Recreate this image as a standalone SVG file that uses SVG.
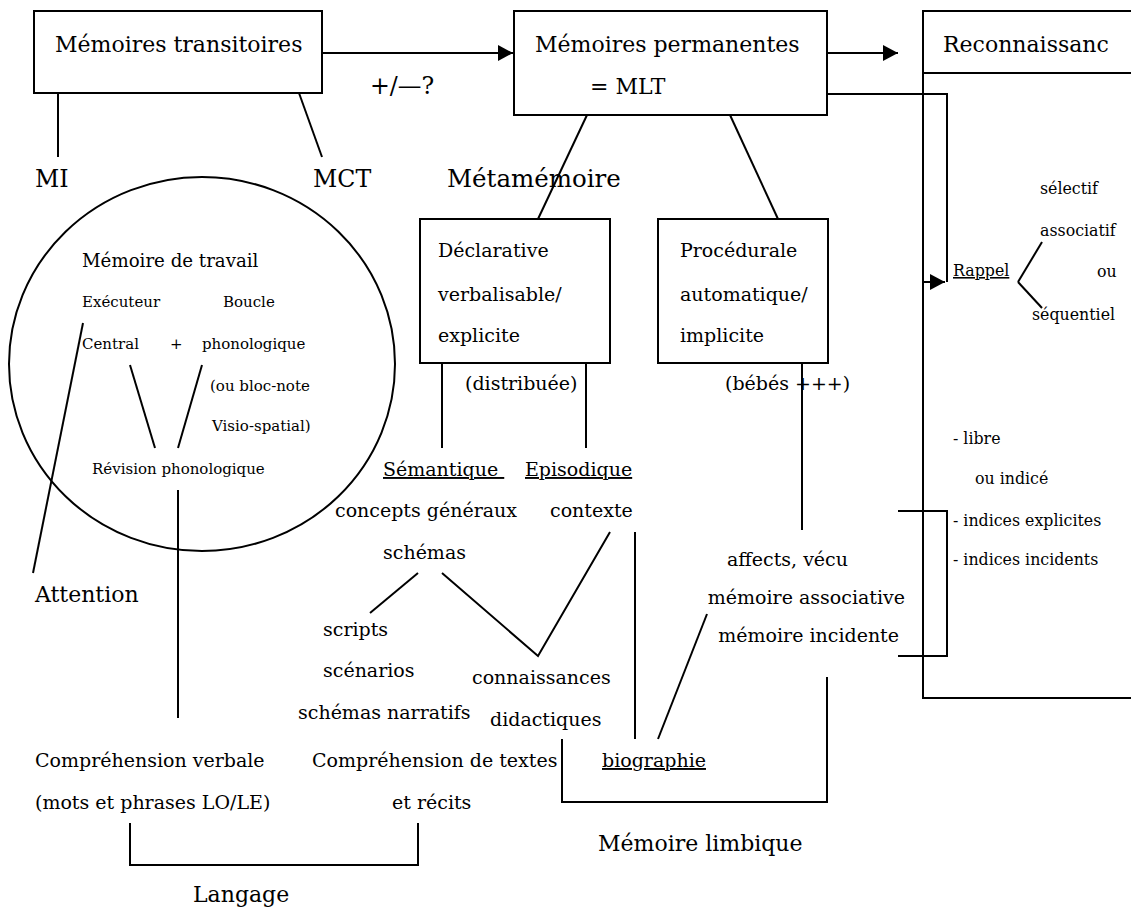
<svg xmlns="http://www.w3.org/2000/svg" width="1131" height="910" viewBox="0 0 1131 910">
<style>
.L{font-size:22px}
.M{font-size:19px}
.S{font-size:15px}
.R{font-size:15.8px}
.box{fill:#fff;stroke:#000;stroke-width:2}
.ln{fill:none;stroke:#000;stroke-width:2}
.u{text-decoration:underline}
</style>
<defs>
<marker id="arr" markerWidth="16" markerHeight="16" refX="15" refY="8" orient="auto" markerUnits="userSpaceOnUse"><path d="M0,0 L15,8 L0,16 z" fill="#000"/></marker>
</defs>
<rect width="1131" height="910" fill="#fff"/>

<g id="connectors">
<line class="ln" x1="322" y1="53" x2="513" y2="53" marker-end="url(#arr)"/>
<line class="ln" x1="828" y1="53" x2="898" y2="53" marker-end="url(#arr)"/>
<polyline class="ln" points="828,94 947,94 947,282"/>
<line class="ln" x1="923" y1="282" x2="945" y2="282" marker-end="url(#arr)"/>
<line class="ln" x1="58" y1="93" x2="58" y2="157"/>
<line class="ln" x1="299" y1="93" x2="322" y2="157"/>
<line class="ln" x1="587" y1="115" x2="538" y2="219"/>
<line class="ln" x1="730" y1="115" x2="778" y2="219"/>
<line class="ln" x1="442" y1="363" x2="442" y2="448"/>
<line class="ln" x1="586" y1="363" x2="586" y2="448"/>
<line class="ln" x1="802" y1="363" x2="802" y2="530"/>
<line class="ln" x1="83" y1="323" x2="33" y2="573"/>
<line class="ln" x1="130" y1="365" x2="155" y2="448"/>
<line class="ln" x1="202" y1="365" x2="178" y2="448"/>
<line class="ln" x1="178" y1="490" x2="178" y2="718"/>
<polyline class="ln" points="130,823 130,865 418,865 418,823"/>
<line class="ln" x1="418" y1="573" x2="370" y2="613"/>
<polyline class="ln" points="442,573 538,656 610,532"/>
<line class="ln" x1="635" y1="532" x2="635" y2="739"/>
<line class="ln" x1="707" y1="614" x2="658" y2="739"/>
<polyline class="ln" points="562,739 562,802 827,802 827,677"/>
<line class="ln" x1="1018" y1="282" x2="1042" y2="242"/>
<line class="ln" x1="1018" y1="282" x2="1042" y2="308"/>
<polyline class="ln" points="898,511 947,511 947,656 898,656"/>
</g>

<g font-family="DejaVu Serif, Liberation Serif, serif" fill="#000">
<g id="transitoires">
<rect class="box" x="34" y="11" width="288" height="82"/>
<text class="L" x="55" y="52">Mémoires transitoires</text>
</g>
<g id="plusminus"><text x="370" y="94" font-size="23.7">+/—?</text></g>
<g id="permanentes">
<rect class="box" x="514" y="11" width="313" height="104"/>
<text class="L" x="535" y="52">Mémoires permanentes</text>
<text class="L" x="590" y="94">= MLT</text>
</g>
<g id="reconnaissance">
<rect x="923" y="11" width="220" height="687" fill="none" stroke="#000" stroke-width="2"/>
<line class="ln" x1="923" y1="73" x2="1140" y2="73"/>
<text class="L" x="943" y="52">Reconnaissanc</text>
</g>
<g id="mi"><text x="35" y="187" font-size="23.7">MI</text></g>
<g id="mct"><text x="313" y="187" font-size="23.7">MCT</text></g>
<g id="metamemoire"><text x="447" y="187" font-size="24.5">Métamémoire</text></g>

<g id="declarative">
<rect class="box" x="420" y="219" width="190" height="144"/>
<text class="M" x="438" y="257">Déclarative</text>
<text class="M" x="438" y="301">verbalisable/</text>
<text class="M" x="438" y="342">explicite</text>
</g>
<g id="procedurale">
<rect class="box" x="658" y="219" width="170" height="144"/>
<text class="M" x="680" y="257">Procédurale</text>
<text class="M" x="680" y="301">automatique/</text>
<text class="M" x="680" y="342">implicite</text>
</g>
<g id="distribuee"><text class="M" x="465" y="390">(distribuée)</text></g>
<g id="bebes"><text class="M" x="725" y="390">(bébés +++)</text></g>

<g id="travail">
<ellipse cx="202" cy="364" rx="193" ry="187" fill="none" stroke="#000" stroke-width="2"/>
<text x="82" y="267" font-size="18.2">Mémoire de travail</text>
<text class="S" x="82" y="307">Exécuteur</text>
<text class="S" x="223" y="307">Boucle</text>
<text class="S" x="82" y="349">Central</text>
<text class="S" x="170" y="349">+</text>
<text class="S" x="202" y="349">phonologique</text>
<text class="S" x="210" y="391">(ou bloc-note</text>
<text class="S" x="212" y="431">Visio-spatial)</text>
<text class="S" x="92" y="474">Révision phonologique</text>
</g>
<g id="attention"><text class="L" x="35" y="602">Attention</text></g>

<g id="semantique">
<text class="M u" x="383" y="476" xml:space="preserve">Sémantique </text>
<text class="M" x="335" y="517">concepts généraux</text>
<text class="M" x="383" y="559">schémas</text>
</g>
<g id="episodique">
<text class="M u" x="525" y="476">Episodique</text>
<text class="M" x="550" y="517">contexte</text>
</g>
<g id="scripts">
<text class="M" x="323" y="636">scripts</text>
<text class="M" x="323" y="677">scénarios</text>
<text class="M" x="298" y="719">schémas narratifs</text>
</g>
<g id="connaissances">
<text class="M" x="472" y="684">connaissances</text>
<text class="M" x="490" y="726">didactiques</text>
</g>
<g id="affects">
<text class="M" x="848" y="566" text-anchor="end">affects, vécu</text>
<text class="M" x="905" y="604" text-anchor="end">mémoire associative</text>
<text class="M" x="899" y="642" text-anchor="end">mémoire incidente</text>
</g>
<g id="biographie"><text class="M u" x="602" y="767">biographie</text></g>
<g id="comp-verbale">
<text class="M" x="35" y="767">Compréhension verbale</text>
<text class="M" x="35" y="809">(mots et phrases LO/LE)</text>
</g>
<g id="comp-textes">
<text class="M" x="312" y="767">Compréhension de textes</text>
<text class="M" x="392" y="809">et récits</text>
</g>
<g id="langage"><text class="L" x="193" y="902">Langage</text></g>
<g id="limbique"><text class="L" x="598" y="851">Mémoire limbique</text></g>

<g id="rappel">
<text class="R u" x="953" y="276">Rappel</text>
<text class="R" x="1040" y="194">sélectif</text>
<text class="R" x="1040" y="236">associatif</text>
<text class="R" x="1097" y="277">ou</text>
<text class="R" x="1032" y="320">séquentiel</text>
</g>
<g id="indices">
<text class="R" x="953" y="444">- libre</text>
<text class="R" x="975" y="484">ou indicé</text>
<text class="R" x="953" y="526">- indices explicites</text>
<text class="R" x="953" y="565">- indices incidents</text>
</g>
</g>
</svg>
